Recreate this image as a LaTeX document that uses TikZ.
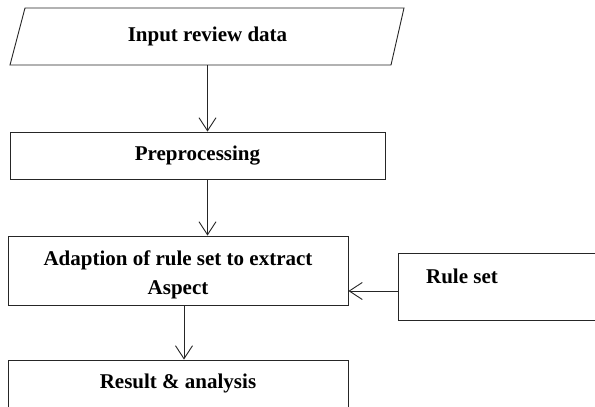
\documentclass[tikz,border=0pt]{standalone}
\usepackage{fontspec}
\setmainfont{Liberation Serif}
\usetikzlibrary{arrows.meta,calc}
\begin{document}
\begin{tikzpicture}[x=1pt,y=-1pt,
  every node/.style={font=\fontsize{21}{29.5}\selectfont\bfseries, text=black},
  box/.style={draw=black!85, line width=0.9pt, inner sep=0pt},
  plain/.style={inner sep=0pt},
  arr/.style={draw=black!85, line width=0.9pt, -{Straight Barb[length=13pt,width=17pt,line width=0.9pt]}}]
\clip (0,0) rectangle (595,407);
\fill[white] (0,0) rectangle (595,407);
% input parallelogram
\node[plain, minimum width=370, minimum height=57] (input) at (207.5,36.5) {Input review data};
\draw[draw=black!85, line width=0.9pt] (25,8) -- (404,8) -- (391,65) -- (10,65) -- cycle;
% boxes
\node[box, minimum width=375, minimum height=47] (pre) at (197.5,155.5) {Preprocessing};
\node[box, minimum width=340, minimum height=69] (ada) at (178,270.5) {};
\node[plain, align=center] (adatxt) at (178,275) {Adaption of rule set to extract\\Aspect};
\node[box, minimum width=210, minimum height=67] (rule) at (503,286.5) {};
\node[plain] (ruletxt) at (462,276) {Rule set};
\node[box, minimum width=340, minimum height=70] (res) at (178,395) {};
\node[plain] (restxt) at (178,383) {Result \& analysis};
% connectors
\draw[arr] (input.south) -- (input.south |- pre.north);
\draw[arr] (input.south |- pre.south) -- (input.south |- ada.north);
\draw[arr] ([yshift=-4.5pt]rule.west) -- ([yshift=-4.5pt]rule.west -| ada.east);
\draw[arr] ([xshift=6pt]ada.south) -- ([xshift=6pt]res.north);
\end{tikzpicture}
\end{document}
